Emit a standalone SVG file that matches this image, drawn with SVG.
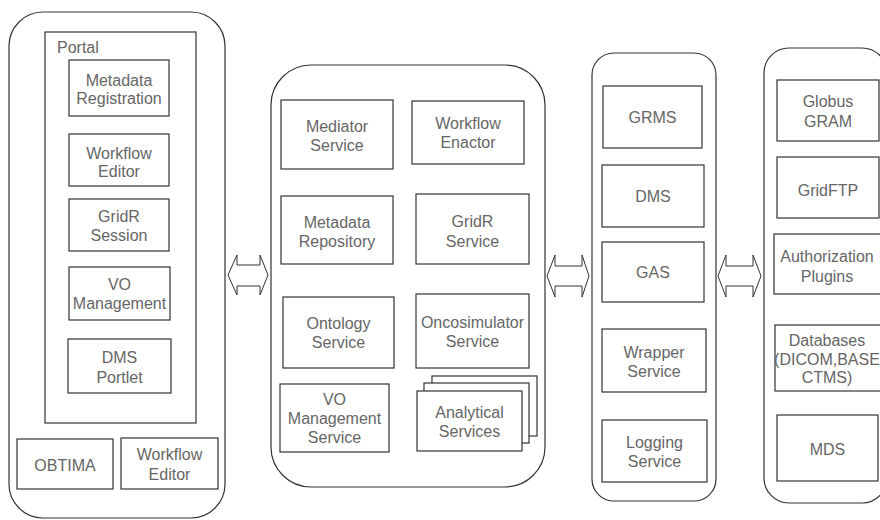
<svg xmlns="http://www.w3.org/2000/svg" width="880" height="520" viewBox="0 0 880 520">
<style>
.c{fill:none;stroke:#333;stroke-width:1.2}
.b{fill:#fff;stroke:#333;stroke-width:1.2}
.a{fill:#fff;stroke:#333;stroke-width:1}
text{font-family:"Liberation Sans",Arial,sans-serif;font-size:16px;fill:#666;text-anchor:middle}
</style>
<rect x="0" y="0" width="880" height="520" fill="#fff"/>
<g id="tier-portal">
<rect class="c" x="9" y="12" width="216" height="506" rx="34" ry="34"/>
<rect class="c" x="45" y="32" width="151" height="391"/>
<text x="46" y="53" style="text-anchor:start" dx="11">Portal</text>
</g>
<g id="metadata-registration"><rect class="b" x="69" y="60" width="100" height="56"/><text x="119" y="86">Metadata</text><text x="119" y="104">Registration</text></g>
<g id="workflow-editor-portal"><rect class="b" x="69" y="134" width="100" height="52"/><text x="119" y="159">Workflow</text><text x="119" y="177">Editor</text></g>
<g id="gridr-session"><rect class="b" x="69" y="199" width="100" height="52"/><text x="119" y="222">GridR</text><text x="119" y="241">Session</text></g>
<g id="vo-management"><rect class="b" x="69" y="267" width="101" height="53"/><text x="119.5" y="290">VO</text><text x="119.5" y="309">Management</text></g>
<g id="dms-portlet"><rect class="b" x="68" y="339" width="103" height="54"/><text x="119.5" y="363">DMS</text><text x="119.5" y="383">Portlet</text></g>
<g id="obtima"><rect class="b" x="17" y="439" width="96" height="50"/><text x="65" y="471">OBTIMA</text></g>
<g id="workflow-editor"><rect class="b" x="121" y="438" width="97" height="51"/><text x="169.5" y="460">Workflow</text><text x="169.5" y="480">Editor</text></g>

<g id="tier-services"><rect class="c" x="271" y="65" width="274" height="422" rx="40" ry="40"/></g>
<g id="mediator-service"><rect class="b" x="281" y="100" width="112" height="69"/><text x="337" y="132">Mediator</text><text x="337" y="151">Service</text></g>
<g id="workflow-enactor"><rect class="b" x="412" y="101" width="112" height="63"/><text x="468" y="129">Workflow</text><text x="468" y="148">Enactor</text></g>
<g id="metadata-repository"><rect class="b" x="281" y="196" width="112" height="68"/><text x="337" y="228">Metadata</text><text x="337" y="247">Repository</text></g>
<g id="gridr-service"><rect class="b" x="416" y="194" width="113" height="70"/><text x="472.5" y="227">GridR</text><text x="472.5" y="247">Service</text></g>
<g id="ontology-service"><rect class="b" x="283" y="297" width="111" height="71"/><text x="338.5" y="329">Ontology</text><text x="338.5" y="348">Service</text></g>
<g id="oncosimulator-service"><rect class="b" x="416" y="294" width="113" height="74"/><text x="472.5" y="328">Oncosimulator</text><text x="472.5" y="347">Service</text></g>
<g id="vo-management-service"><rect class="b" x="280" y="384" width="109" height="68"/><text x="334.5" y="405">VO</text><text x="334.5" y="424">Management</text><text x="334.5" y="443">Service</text></g>
<g id="analytical-services">
<rect class="b" x="432" y="376" width="105" height="60"/>
<rect class="b" x="424" y="383" width="105" height="60"/>
<rect class="b" x="417" y="391" width="105" height="60"/>
<text x="469.5" y="418">Analytical</text><text x="469.5" y="437">Services</text>
</g>

<g id="tier-middleware"><rect class="c" x="592" y="53" width="124" height="448" rx="22" ry="22"/></g>
<g id="grms"><rect class="b" x="603" y="86" width="99" height="62"/><text x="652.5" y="123">GRMS</text></g>
<g id="dms"><rect class="b" x="602" y="165" width="102" height="62"/><text x="653" y="202">DMS</text></g>
<g id="gas"><rect class="b" x="602" y="242" width="102" height="60"/><text x="653" y="278">GAS</text></g>
<g id="wrapper-service"><rect class="b" x="602" y="329" width="104" height="63"/><text x="654" y="358">Wrapper</text><text x="654" y="377">Service</text></g>
<g id="logging-service"><rect class="b" x="602" y="420" width="105" height="62"/><text x="654.5" y="448">Logging</text><text x="654.5" y="467">Service</text></g>

<g id="tier-grid"><rect class="c" x="764" y="48" width="123" height="455" rx="25" ry="25"/></g>
<g id="globus-gram"><rect class="b" x="777" y="80" width="102" height="61"/><text x="828" y="107">Globus</text><text x="828" y="127">GRAM</text></g>
<g id="gridftp"><rect class="b" x="777" y="157" width="102" height="61"/><text x="828" y="196">GridFTP</text></g>
<g id="authorization-plugins"><rect class="b" x="774" y="234" width="107" height="60"/><text x="827" y="262">Authorization</text><text x="827" y="282">Plugins</text></g>
<g id="databases"><rect class="b" x="775" y="325" width="107" height="66"/><text x="827" y="346">Databases</text><text x="827" y="365">(DICOM,BASE</text><text x="827" y="383">CTMS)</text></g>
<g id="mds"><rect class="b" x="777" y="415" width="101" height="66"/><text x="827.5" y="455">MDS</text></g>

<g id="connectors">
<polygon class="a" points="228,275 237,255 237,265 260,265 260,255 268,275 260,295 260,286 237,286 237,295"/>
<polygon class="a" points="547,276 555,255 555,266 582,266 582,255 589,276 582,297 582,286 555,286 555,297"/>
<polygon class="a" points="718,276 726,255 726,266 753,266 753,255 761,276 753,297 753,286 726,286 726,297"/>
</g>
</svg>
